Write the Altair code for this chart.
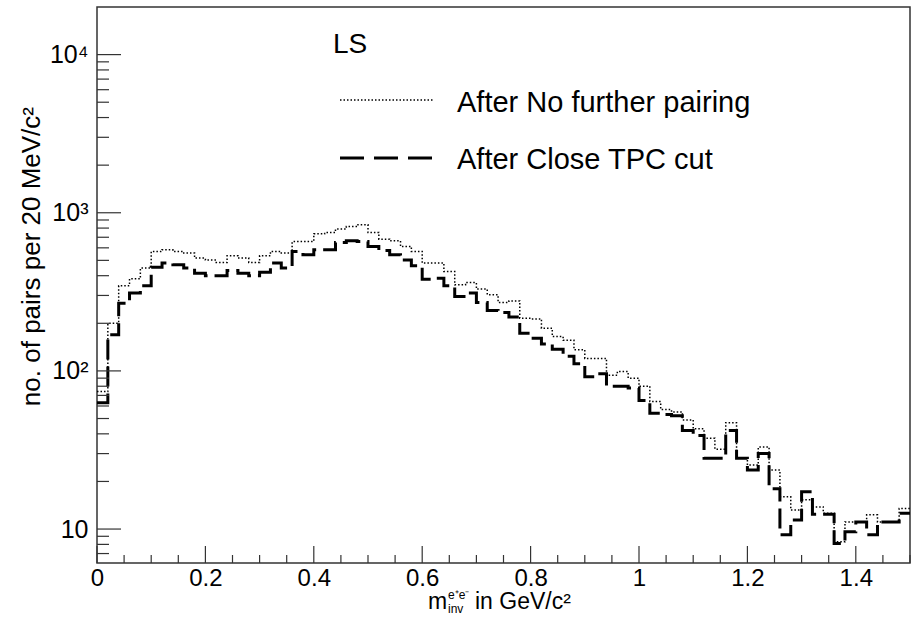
import altair as alt
import pandas as pd

# ---------------- data ----------------
BIN_WIDTH = 0.02
X_MAX = 1.5

no_further_pairing = [
    74, 200, 345, 382, 447, 569, 583, 569, 556, 517,
    502, 485, 535, 517, 485, 535, 569, 556, 657, 657,
    736, 750, 788, 818, 840, 750, 681, 665, 612, 569,
    481, 481, 425, 350, 362, 329, 303, 271, 277, 215,
    213, 186, 165, 156, 136, 120, 120, 94, 99, 90,
    80, 64, 57, 55, 49, 43, 37.5, 32, 47, 28,
    25.4, 33, 23.6, 16, 13.2, 15.3, 13.8, 12.6, 8.3, 11.1,
    11.1, 12.3, 11.1, 11.1, 13.5,
]

close_tpc_cut = [
    63, 169, 268, 311, 345, 453, 481, 469, 447, 415,
    399, 399, 431, 415, 399, 420, 481, 447, 569, 542,
    583, 583, 649, 665, 657, 612, 578, 542, 502, 462,
    380, 385, 345, 295, 311, 271, 241, 234, 219, 173,
    161, 148, 137, 124, 111, 92, 96, 80, 80, 78,
    65, 54, 53, 52, 42, 39, 28, 28, 42, 28,
    23.6, 30, 18, 9.2, 11.4, 17.2, 12.4, 12.4, 8.1, 9.6,
    11.1, 9.2, 11.1, 11.1, 12.6,
]

x_major_ticks = [0, 0.2, 0.4, 0.6, 0.8, 1.0, 1.2, 1.4]
x_minor_ticks = [0.05, 0.1, 0.15, 0.25, 0.3, 0.35, 0.45, 0.5, 0.55,
                 0.65, 0.7, 0.75, 0.85, 0.9, 0.95, 1.05, 1.1, 1.15,
                 1.25, 1.3, 1.35, 1.45, 1.5]
y_major_ticks = [10, 100, 1000, 10000]
y_minor_ticks = [7, 8, 9, 20, 30, 40, 50, 60, 70, 80, 90,
                 200, 300, 400, 500, 600, 700, 800, 900,
                 2000, 3000, 4000, 5000, 6000, 7000, 8000, 9000]

legend_title = "LS"
legend_labels = ["After No further pairing", "After Close TPC cut"]


def step_frame(values):
    xs = [round(i * BIN_WIDTH, 4) for i in range(len(values))] + [X_MAX]
    ys = list(values) + [values[-1]]
    return pd.DataFrame({"x": xs, "y": ys})


# ---------------- layout ----------------
W, H = 813, 556
FONT = "Liberation Sans"

xscale = alt.Scale(domain=[0, X_MAX], nice=False, zero=False)
yscale = alt.Scale(type="log", domain=[6.1, 20000], nice=False)

x_axis = alt.Axis(values=x_major_ticks, format="~g", ticks=False, domain=False,
                  grid=False, labelFontSize=24, labelPadding=3, title=None,
                  labelFont=FONT, labelColor="black", labelFlush=False)
y_axis = alt.Axis(values=y_major_ticks, ticks=False, domain=False, grid=False,
                  labelFontSize=25, labelPadding=9, title=None, labelFont=FONT,
                  labelColor="black",
                  labelExpr="datum.value == 10 ? '10' : datum.value == 100 ? '10²' : datum.value == 1000 ? '10³' : '10⁴'")

dotted = alt.Chart(step_frame(no_further_pairing)).mark_line(
    interpolate="step-after", color="black", strokeWidth=1.5,
    strokeDash=[1.5, 2], clip=True
).encode(
    x=alt.X("x:Q", scale=xscale, axis=x_axis),
    y=alt.Y("y:Q", scale=yscale, axis=y_axis),
)

dashed = alt.Chart(step_frame(close_tpc_cut)).mark_line(
    interpolate="step-after", color="black", strokeWidth=3,
    strokeDash=[20, 7], clip=True
).encode(
    x=alt.X("x:Q", scale=xscale, axis=x_axis),
    y=alt.Y("y:Q", scale=yscale, axis=y_axis),
)

# tick marks pointing inward (ROOT style)
xmaj = alt.Chart(pd.DataFrame({"x": x_major_ticks})).mark_rule(color="#333", strokeWidth=1.2).encode(
    x=alt.X("x:Q", scale=xscale, axis=x_axis), y=alt.value(H), y2=alt.value(H - 17))
xmin = alt.Chart(pd.DataFrame({"x": x_minor_ticks})).mark_rule(color="#333", strokeWidth=1.2).encode(
    x=alt.X("x:Q", scale=xscale, axis=x_axis), y=alt.value(H), y2=alt.value(H - 8))
ymaj = alt.Chart(pd.DataFrame({"y": y_major_ticks})).mark_rule(color="#333", strokeWidth=1.2).encode(
    y=alt.Y("y:Q", scale=yscale, axis=y_axis), x=alt.value(0), x2=alt.value(24))
ymin = alt.Chart(pd.DataFrame({"y": y_minor_ticks})).mark_rule(color="#333", strokeWidth=1.2).encode(
    y=alt.Y("y:Q", scale=yscale, axis=y_axis), x=alt.value(0), x2=alt.value(12))

# legend
leg_title = alt.Chart(pd.DataFrame({"t": [legend_title]})).mark_text(
    font=FONT, fontSize=28, align="left", baseline="middle", color="black"
).encode(text="t:N", x=alt.value(236), y=alt.value(38))

leg_txt1 = alt.Chart(pd.DataFrame({"t": [legend_labels[0]]})).mark_text(
    font=FONT, fontSize=29, align="left", baseline="middle", color="black"
).encode(text="t:N", x=alt.value(360), y=alt.value(96))
leg_txt2 = alt.Chart(pd.DataFrame({"t": [legend_labels[1]]})).mark_text(
    font=FONT, fontSize=29, align="left", baseline="middle", color="black"
).encode(text="t:N", x=alt.value(360), y=alt.value(153))

leg_line1 = alt.Chart(pd.DataFrame({"a": [0]})).mark_rule(
    color="black", strokeWidth=1.5, strokeDash=[1.5, 2]
).encode(x=alt.value(243), x2=alt.value(336), y=alt.value(93))
leg_line2 = alt.Chart(pd.DataFrame({"a": [0]})).mark_rule(
    color="black", strokeWidth=3, strokeDash=[24, 10]
).encode(x=alt.value(243), x2=alt.value(336), y=alt.value(151))

# axis titles
ytitle = alt.Chart(pd.DataFrame({"t": ["no. of pairs per 20 MeV/c²"]})).mark_text(
    font=FONT, fontSize=26, angle=270, align="right", baseline="alphabetic", color="black"
).encode(text="t:N", x=alt.value(-57), y=alt.value(100))

xt_m = alt.Chart(pd.DataFrame({"t": ["m"]})).mark_text(
    font=FONT, fontSize=23, align="left", baseline="alphabetic", color="black"
).encode(text="t:N", x=alt.value(331), y=alt.value(602))
xt_sup = alt.Chart(pd.DataFrame({"t": ["e⁺e⁻"]})).mark_text(
    font=FONT, fontSize=12, align="left", baseline="alphabetic", color="black"
).encode(text="t:N", x=alt.value(351), y=alt.value(592))
xt_sub = alt.Chart(pd.DataFrame({"t": ["inv"]})).mark_text(
    font=FONT, fontSize=12, align="left", baseline="alphabetic", color="black"
).encode(text="t:N", x=alt.value(351), y=alt.value(606))
xt_rest = alt.Chart(pd.DataFrame({"t": ["in GeV/c²"]})).mark_text(
    font=FONT, fontSize=23, align="left", baseline="alphabetic", color="black"
).encode(text="t:N", x=alt.value(378), y=alt.value(602))

chart = alt.layer(
    dotted, dashed, xmaj, xmin, ymaj, ymin,
    leg_title, leg_txt1, leg_txt2, leg_line1, leg_line2,
    ytitle, xt_m, xt_sup, xt_sub, xt_rest,
).properties(
    width=W, height=H,
    autosize=alt.AutoSizeParams(type="none"),
    padding={"left": 97, "top": 7, "right": 3, "bottom": 54},
    background="white",
).configure_view(stroke="#333", strokeWidth=1.5)

chart.save("out.html", embed_options={"renderer": "svg", "actions": False})
